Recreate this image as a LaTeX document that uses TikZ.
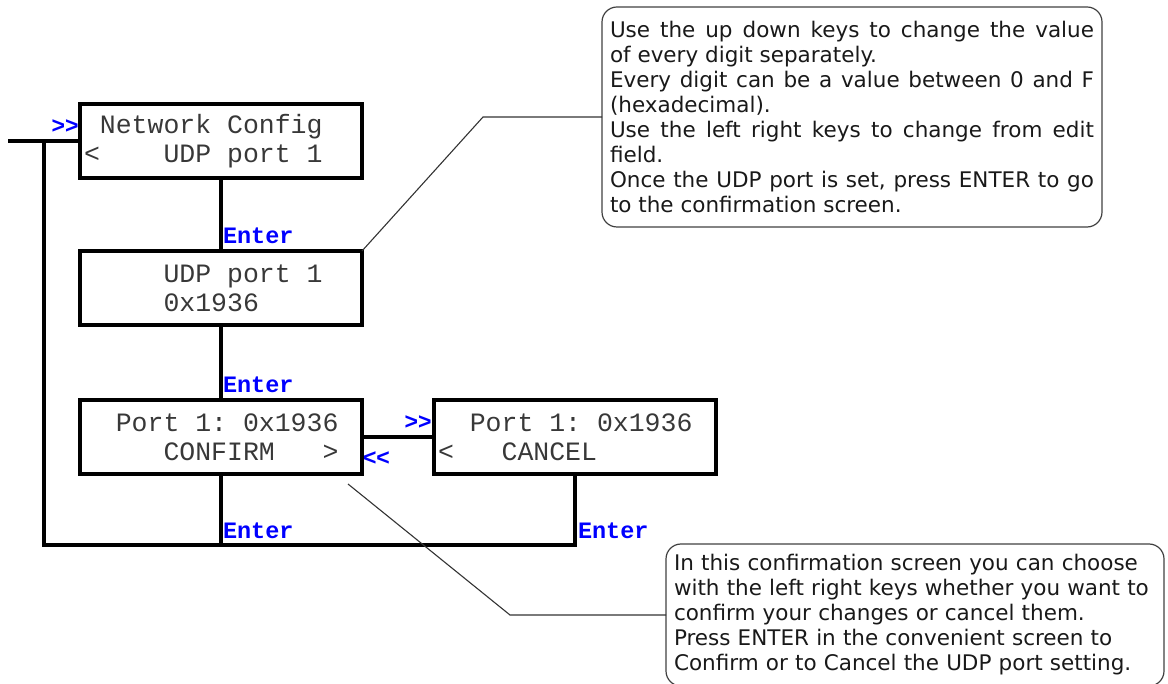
\documentclass[tikz,border=0pt]{standalone}
\usepackage{fontspec}
\usetikzlibrary{positioning}
\newfontfamily\lcdfont{Liberation Mono}
\newfontfamily\notefont{DejaVu Sans}
\newfontfamily\navfont{Liberation Sans}

\begin{document}
\begin{tikzpicture}[x=1pt, y=-1pt,
    screen/.style = {draw, line width=3.6pt, outer sep=0pt, text width=274pt, inner xsep=4pt, minimum height=74pt, align=left, text=black!78, font=\lcdfont\fontsize{26.5}{29}\selectfont, execute at begin node={\spaceskip=0pt\xspaceskip=0pt}},
    key/.style = {text=blue, inner sep=0pt, outer sep=0pt, font=\lcdfont\bfseries\fontsize{23.5}{23.5}\selectfont},
    nav/.style = {text=blue, inner sep=0pt, outer sep=0pt, font=\navfont\bfseries\fontsize{23}{23}\selectfont},
    hint/.style = {draw=black!75, line width=1.2pt, outer sep=0pt, rounded corners=15pt, inner xsep=8pt, text width=484pt, text=black!90, font=\notefont\fontsize{21.5}{25}\selectfont},
    wire/.style = {line width=3.6pt},
    lead/.style = {line width=1.1pt, black!80}]
    \useasboundingbox (0,0) rectangle (1168,684);

    % the four screens
    \node[screen, anchor=north west] (net) at (80,104) {\mbox{}~Network~Config\\<~~~~UDP~port~1};
    \node[screen, below=73pt of net] (udp) {\mbox{}~~~~~UDP~port~1\\\mbox{}~~~~~0x1936};
    \node[screen, below=75pt of udp] (confirm) {\mbox{}~~Port~1:~0x1936\\\mbox{}~~~~~CONFIRM~~~>};
    \node[screen, right=72pt of confirm] (cancel) {\mbox{}~~Port~1:~0x1936\\<~~~CANCEL};

    % left / right keys
    \node[nav, left=1.5pt of net.west, yshift=14pt] (fwd) {>\kern0pt>};
    \node[nav, left=2.5pt of cancel.west, yshift=14pt] (next) {>\kern0pt>};
    \node[nav, right=1pt of confirm.east, yshift=-22pt] (back) {<\kern0pt<};

    % notes
    \node[hint, anchor=north west, minimum height=220pt, align=justify] (hint1) at (602,7) {Use the up down keys to change the value\linebreak of every digit separately.\\Every digit can be a value between 0 and F\linebreak (hexadecimal).\\Use the left right keys to change from edit\linebreak field.\\Once the UDP port is set, press ENTER to go\linebreak to the confirmation screen.};
    \node[hint, anchor=north west, minimum height=142pt, text width=482pt, align=left] (hint2) at (666,544) {In this confirmation screen you can choose\\with the left right keys whether you want to\\confirm your changes or cancel them.\\Press ENTER in the convenient screen to\\Confirm or to Cancel the UDP port setting.};

    % connections
    \coordinate (in) at (8,141);
    \coordinate (loop) at (44,545);
    \draw[wire] (in) -- (net);
    \draw[wire] (in -| loop) -- (loop) -| node[key, pos=0.5, above right=6pt and 3pt] {Enter} (cancel);
    \draw[wire] (net) -- node[key, pos=1, above right=7pt and 2pt] {Enter} (udp);
    \draw[wire] (udp) -- node[key, pos=1, above right=7pt and 2pt] {Enter} (confirm);
    \draw[wire] (confirm) -- (confirm |- loop) node[key, above right=6pt and 2pt] {Enter};
    \draw[wire] (confirm) -- (cancel);

    % leader lines to the notes
    \coordinate (bend1) at (483,117);
    \coordinate (tip) at (348,484);
    \coordinate (bend2) at (510,615);
    \draw[lead] (udp.north east) -- (bend1) -- (hint1.west);
    \draw[lead] (tip) -- (bend2) -- (hint2.west);
\end{tikzpicture}
\end{document}
